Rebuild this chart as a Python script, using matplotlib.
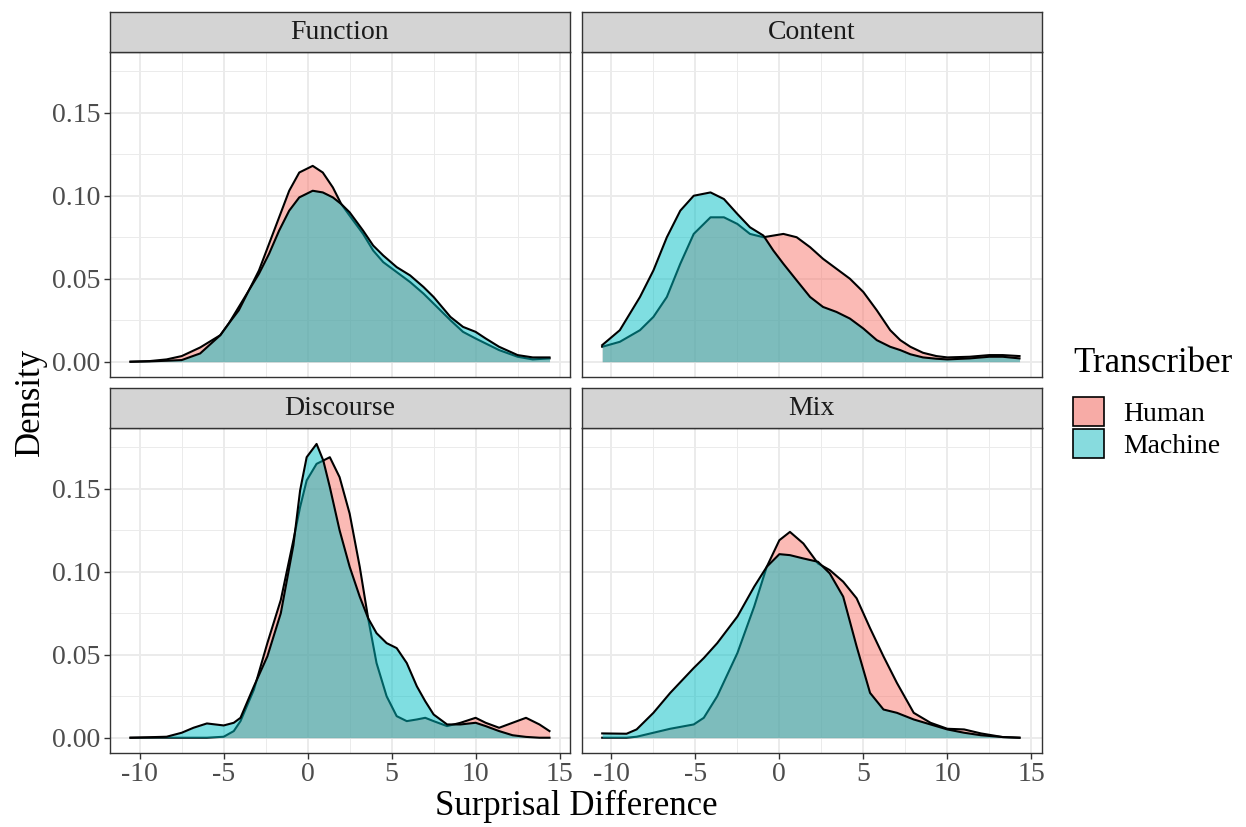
import numpy as np
import matplotlib.pyplot as plt
from matplotlib.patches import Patch

plt.rcParams['font.family'] = ['Liberation Serif', 'DejaVu Serif']

# ---- data (density estimates per panel) ----

func_x = [-10.55, -9.4, -8.4, -7.5, -6.4, -5.2, -4.7, -4.1, -3.5, -2.9, -2.3, -1.7, -1.1, -0.5, 0.3, 0.9,
          1.5, 2.0, 2.5, 3.3, 3.9, 4.5, 5.3, 6.1, 6.9, 7.5, 8.5, 9.25, 10.0, 10.6, 11.4, 12.5, 13.4, 14.4]
func_human = [0.0, 0.0004, 0.0014, 0.0034, 0.0086, 0.016, 0.023, 0.033, 0.043, 0.055, 0.071, 0.087, 0.103,
              0.114, 0.118, 0.114, 0.105, 0.095, 0.088, 0.077, 0.067, 0.060, 0.054, 0.048, 0.041, 0.035,
              0.025, 0.018, 0.014, 0.011, 0.007, 0.003, 0.0014, 0.002]
func_machine = [0.0, 0.0002, 0.0006, 0.001, 0.005, 0.016, 0.023, 0.031, 0.043, 0.053, 0.065, 0.079, 0.091,
                0.099, 0.103, 0.102, 0.099, 0.095, 0.090, 0.079, 0.070, 0.064, 0.057, 0.052, 0.045, 0.039,
                0.027, 0.021, 0.018, 0.014, 0.009, 0.004, 0.0026, 0.0026]

cont_x = [-10.55, -9.5, -8.3, -7.5, -6.7, -5.9, -5.1, -4.1, -3.3, -2.5, -1.75, -0.95, -0.36, 0.24, 1.03,
          1.83, 2.6, 3.4, 4.2, 5.0, 5.8, 6.6, 7.2, 7.8, 8.55, 9.35, 10.0, 11.33, 12.5, 13.3, 14.3]
cont_human = [0.009, 0.012, 0.019, 0.027, 0.039, 0.059, 0.077, 0.087, 0.087, 0.083, 0.077, 0.075, 0.076,
              0.077, 0.075, 0.069, 0.062, 0.056, 0.050, 0.042, 0.031, 0.019, 0.013, 0.009, 0.0054, 0.0034,
              0.0026, 0.003, 0.004, 0.004, 0.0034]
cont_machine = [0.010, 0.019, 0.039, 0.055, 0.075, 0.091, 0.100, 0.102, 0.098, 0.089, 0.081, 0.076, 0.067,
                0.059, 0.049, 0.039, 0.033, 0.030, 0.026, 0.020, 0.013, 0.009, 0.007, 0.0045, 0.0026,
                0.0018, 0.0014, 0.002, 0.003, 0.003, 0.002]

disc_x = [-10.55, -8.4, -7.5, -6.8, -6.0, -5.0, -4.4, -4.0, -3.2, -2.4, -1.6, -0.85, -0.45, -0.06, 0.53,
          0.93, 1.32, 1.9, 2.5, 3.1, 3.6, 4.1, 4.7, 5.3, 5.9, 6.5, 7.0, 7.5, 8.3, 9.1, 10.0, 10.6, 11.4,
          12.2, 13.0, 13.8, 14.4]
disc_human = [0.0, 0.0, 0.0, 0.0, 0.0, 0.0006, 0.004, 0.010, 0.029, 0.057, 0.083, 0.119, 0.139, 0.155,
              0.165, 0.167, 0.169, 0.157, 0.135, 0.103, 0.072, 0.045, 0.025, 0.013, 0.010, 0.011, 0.012,
              0.010, 0.007, 0.009, 0.012, 0.009, 0.006, 0.009, 0.012, 0.008, 0.004]
disc_machine = [0.0, 0.0006, 0.003, 0.006, 0.0086, 0.0074, 0.009, 0.012, 0.031, 0.049, 0.075, 0.116, 0.149,
                0.169, 0.177, 0.167, 0.151, 0.125, 0.103, 0.085, 0.072, 0.063, 0.057, 0.054, 0.045, 0.031,
                0.022, 0.014, 0.008, 0.008, 0.009, 0.007, 0.004, 0.0015, 0.0005, 0.0, 0.0]

mix_x = [-10.55, -9.1, -8.5, -7.5, -6.5, -5.1, -4.5, -3.7, -2.5, -1.5, -0.75, 0, 0.63, 1.43, 2.3, 3.0,
         3.8, 4.6, 5.4, 6.2, 7.0, 8.0, 9.0, 10.0, 11.0, 12.0, 13.3, 14.3]
mix_human = [0.0, 0.0, 0.0006, 0.003, 0.0054, 0.008, 0.012, 0.025, 0.051, 0.079, 0.103, 0.119, 0.124, 0.117,
             0.105, 0.101, 0.094, 0.084, 0.066, 0.049, 0.033, 0.015, 0.009, 0.0054, 0.005, 0.0026, 0.0004, 0.0]
mix_machine = [0.0026, 0.0024, 0.005, 0.015, 0.027, 0.042, 0.048, 0.057, 0.073, 0.091, 0.103, 0.1106, 0.110,
               0.108, 0.106, 0.099, 0.085, 0.055, 0.027, 0.017, 0.015, 0.011, 0.008, 0.005, 0.003, 0.0015,
               0.0004, 0.0]

panels = ['Function', 'Content', 'Discourse', 'Mix']
panel_data = {
    'Function': (func_x, func_human, func_machine),
    'Content': (cont_x, cont_human, cont_machine),
    'Discourse': (disc_x, disc_human, disc_machine),
    'Mix': (mix_x, mix_human, mix_machine),
}
groups = ['Human', 'Machine']
group_colors = ['#F8766D', '#00BFC4']

x_ticks = [-10, -5, 0, 5, 10, 15]
x_minor = [-7.5, -2.5, 2.5, 7.5, 12.5]
y_ticks = [0.00, 0.05, 0.10, 0.15]
y_minor = [0.025, 0.075, 0.125, 0.175]

# ---- layout ----
W, H = 1246, 827
fig = plt.figure(figsize=(W / 100, H / 100), dpi=100)

def fx(px):
    return px / W

def fy(py):
    return 1 - py / H

lefts = [110, 581.7]
tops = [52, 428]
panel_w = 460
panel_h = 324.5
strip_h = 40.5

base_fs = 20
for i, name in enumerate(panels):
    r, c = divmod(i, 2)
    l, t = lefts[c], tops[r]
    ax = fig.add_axes([fx(l), fy(t + panel_h), panel_w / W, panel_h / H])
    sax = fig.add_axes([fx(l), fy(t), panel_w / W, strip_h / H])

    xs, hum, mac = panel_data[name]
    for vals, col in zip([hum, mac], group_colors):
        ax.fill_between(xs, 0, vals, color=col, alpha=0.5, lw=0, zorder=3)
        ax.plot(xs, vals, color='black', lw=1.5, zorder=3, solid_joinstyle='round')

    ax.set_xlim(-11.77, 15.62)
    ax.set_ylim(-0.0089, 0.1866)
    ax.set_xticks(x_ticks)
    ax.set_xticks(x_minor, minor=True)
    ax.set_yticks(y_ticks)
    ax.set_yticks(y_minor, minor=True)
    ax.grid(True, which='major', color='#EBEBEB', lw=1.4, zorder=0)
    ax.grid(True, which='minor', color='#EBEBEB', lw=0.7, zorder=0)
    ax.set_axisbelow(True)
    ax.tick_params(which='minor', length=0)
    ax.tick_params(which='major', length=4, width=1, color='#333333',
                   labelsize=base_fs, labelcolor='#4D4D4D', pad=3)
    for s in ax.spines.values():
        s.set_color('#333333')
        s.set_linewidth(1.0)
    if r == 1:
        ax.set_xticklabels([str(v) for v in x_ticks])
    else:
        ax.tick_params(axis='x', which='major', length=0, labelbottom=False)
    if c == 0:
        ax.set_yticklabels(['%.2f' % v for v in y_ticks])
    else:
        ax.tick_params(axis='y', which='major', length=0, labelleft=False)

    sax.set_facecolor('#D4D4D4')
    sax.set_xticks([])
    sax.set_yticks([])
    for s in sax.spines.values():
        s.set_color('#333333')
        s.set_linewidth(1.0)
    sax.text(0.5, 0.47, name, ha='center', va='center', fontsize=base_fs, color='#1A1A1A',
             transform=sax.transAxes)

fig.text(fx(576), fy(806), 'Surprisal Difference', ha='center', va='center', fontsize=25)
fig.text(fx(30), fy(402), 'Density', ha='center', va='center', rotation=90, fontsize=25)

handles = [Patch(facecolor=(0.97, 0.67, 0.65), edgecolor='black', lw=1.2),
           Patch(facecolor=(0.53, 0.86, 0.87), edgecolor='black', lw=1.2)]
leg = fig.legend(handles=handles, labels=groups, title='Transcriber', loc='upper left',
                 bbox_to_anchor=(fx(1073), fy(347)), frameon=False, fontsize=base_fs,
                 title_fontsize=25, handlelength=1.1, handleheight=1.25, labelspacing=0.08,
                 handletextpad=0.7, borderaxespad=0, borderpad=0)
leg._legend_box.align = 'left'
leg._legend_box.sep = 12

fig.savefig('out.png', dpi=100)
